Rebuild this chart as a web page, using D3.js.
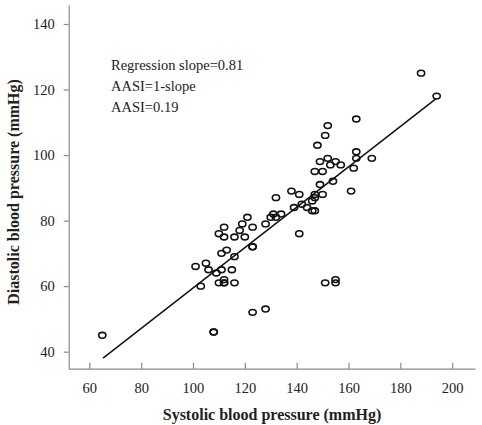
<!DOCTYPE html>
<html><head><meta charset="utf-8">
<script src="https://cdn.jsdelivr.net/npm/d3@7"></script>
<style>body{margin:0;background:#fff}svg{display:block}text{font-family:"Liberation Serif","Times New Roman",serif}</style>
</head><body>
<svg id="c" width="482" height="425"></svg>
<script>
const sbp = [65,108,108,123,128,101,103,105,106,109,110,112,112,112,111,111,110,112,112,113,115,116,116,116,118,119,120,121,123,123,123,128,130,131,132,132,134,138,139,141,141,142,144,146,146,147,147,147,147,148,149,149,150,150,151,152,152,153,154,155,157,151,155,155,161,162,163,163,163,169,188,194];
const dbp = [45,46,46,52,53,66,60,67,65,64,61,61,61,62,65,70,76,75,78,71,65,61,69,75,77,79,75,81,78,72,72,79,81,82,81,87,82,89,84,88,76,85,84,86,83,83,87,88,95,103,98,91,95,88,106,109,99,97,92,98,97,61,62,61,89,96,111,101,99,99,125,118];
const fitX = [65.3, 193.8];
const fitY = [38.0, 117.2];
const xTicks = [60,80,100,120,140,160,180,200];
const yTicks = [40,60,80,100,120,140];
const notes = ["Regression slope=0.81","AASI=1-slope","AASI=0.19"];

const svg = d3.select("#c");
const L=68.7, R=475, T=5, B=368.7;
const x = d3.scaleLinear().domain([52.05,208.8]).range([L,R]);
const y = d3.scaleLinear().domain([34.8,145.8]).range([B,T]);
const axisCol="#8a8a8a", txt="#222";

const gx = svg.append("g").attr("transform",`translate(0,${B})`)
  .call(d3.axisBottom(x).tickValues(xTicks).tickSize(-6).tickSizeOuter(0).tickPadding(14));
const gy = svg.append("g").attr("transform",`translate(${L},0)`)
  .call(d3.axisLeft(y).tickValues(yTicks).tickSize(5).tickSizeOuter(0).tickPadding(9));
[gx,gy].forEach(g=>{
  g.select(".domain").attr("stroke",axisCol).attr("stroke-width",1.2);
  g.selectAll(".tick line").attr("stroke",axisCol).attr("stroke-width",1.2);
  g.selectAll(".tick text").attr("fill",txt).style("font-size","14.5px").style("font-family","'Liberation Serif',serif");
});

svg.append("line").attr("x1",x(fitX[0])).attr("y1",y(fitY[0])).attr("x2",x(fitX[1])).attr("y2",y(fitY[1]))
  .attr("stroke","#111").attr("stroke-width",1.5);

svg.append("g").selectAll("ellipse").data(sbp.map((v,i)=>[v,dbp[i]])).join("ellipse")
  .attr("cx",d=>x(d[0])).attr("cy",d=>y(d[1])).attr("rx",3.6).attr("ry",2.9)
  .attr("fill","none").attr("stroke","#111").attr("stroke-width",1.6);

svg.append("g").selectAll("text").data(notes).join("text")
  .attr("x",111).attr("y",(d,i)=>70+i*21).attr("fill",txt).style("font-size","14.5px").text(d=>d);

svg.append("text").attr("x",272).attr("y",420).attr("text-anchor","middle").attr("fill",txt)
  .style("font-size","16px").style("font-weight","bold").text("Systolic blood pressure (mmHg)");
svg.append("text").attr("transform","translate(19,192) rotate(-90)").attr("text-anchor","middle").attr("fill",txt)
  .style("font-size","16px").style("font-weight","bold").text("Diastolic blood pressure (mmHg)");
</script>
</body></html>
